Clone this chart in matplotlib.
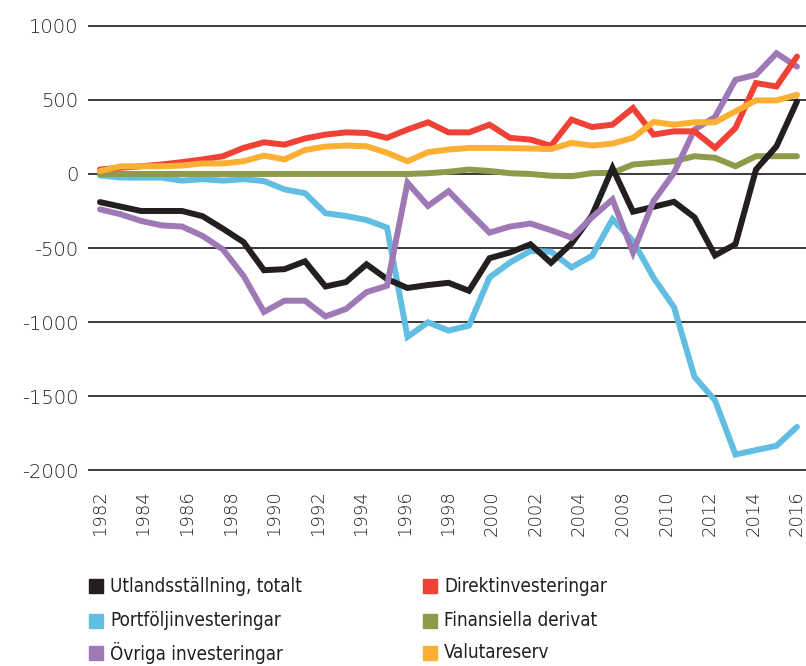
import matplotlib
matplotlib.use("Agg")
import matplotlib.pyplot as plt
import numpy as np
from matplotlib.patches import Rectangle

years = list(range(1982, 2017))
xtick_labels = ["1982", "1984", "1986", "1988", "1990", "1992", "1994", "1996", "1998",
                "2000", "2002", "2004", "2008", "2010", "2012", "2014", "2016"]
yticks = [1000, 500, 0, -500, -1000, -1500, -2000]
ytick_labels = ["1000", "500", "0", "-500", "-1000", "-1500", "-2000"]

names = ["Utlandsställning, totalt", "Direktinvesteringar", "Portföljinvesteringar",
         "Finansiella derivat", "Övriga investeringar", "Valutareserv"]
colors = ["#231f20", "#ef4136", "#62bde2", "#8f9b4b", "#9f79b6", "#fbb034"]

utland = [-190, -220, -250, -250, -250, -285, -370, -460, -650, -643, -590, -760,
          -730, -610, -710, -770, -750, -735, -789, -569, -530, -475, -600, -470,
          -280, 40, -255, -222, -188, -293, -550, -474, 30, 187, 490]
direkt = [30, 42, 52, 64, 80, 98, 120, 176, 214, 198, 240, 266,
          281, 277, 244, 300, 349, 281, 281, 333, 244, 232, 190, 367,
          317, 333, 445, 266, 288, 288, 176, 311, 614, 591, 793]
portfolj = [-10, -24, -25, -25, -45, -35, -45, -35, -48, -104, -130, -265,
            -284, -311, -362, -1100, -1002, -1058, -1024, -699, -598, -520, -525, -631,
            -553, -306, -452, -700, -900, -1370, -1529, -1895, -1865, -1836, -1708]
derivat = [0, 0, 0, 0, 0, 0, 0, 0, 0, 0, 0, 0,
           0, 0, 0, 0, 5, 15, 30, 20, 5, 0, -12, -15,
           5, 8, 64, 75, 86, 120, 109, 52, 120, 120, 120]
ovriga = [-239, -272, -317, -347, -355, -418, -510, -688, -932, -856, -856, -962,
          -912, -798, -755, -59, -216, -116, -257, -396, -355, -335, -380, -430,
          -293, -172, -530, -183, 8, 300, 385, 636, 670, 815, 725]
valuta = [19, 52, 52, 52, 57, 71, 71, 86, 124, 98, 162, 185,
          192, 187, 143, 86, 147, 165, 176, 176, 174, 172, 168, 210,
          192, 205, 244, 351, 333, 349, 349, 423, 497, 497, 535]

series = [utland, direkt, portfolj, derivat, ovriga, valuta]
draw_order = [2, 3, 0, 4, 1, 5]

fig = plt.figure(figsize=(8.06, 6.66), dpi=100)
W, H = 806, 666
ax = fig.add_axes([88 / W, (H - 476) / H, 718 / W, 456 / H])

for k in draw_order:
    ax.plot(years, series[k], color=colors[k], lw=4.3, solid_joinstyle="miter",
            solid_capstyle="round", zorder=3 + draw_order.index(k))

ax.set_xlim(1982 - 12 / 20.5, 1982 + 706 / 20.5)
ax.set_ylim(-2040, 1040)
ax.set_yticks(yticks)
ax.set_yticklabels(ytick_labels)
ax.set_xticks(np.linspace(years[0], years[-1], len(xtick_labels)))
ax.set_xticklabels(xtick_labels, rotation=90)
ax.tick_params(axis="both", length=0, colors="#231f20")
ax.tick_params(axis="y", pad=7, labelsize=14)
ax.tick_params(axis="x", pad=10, labelsize=13)
for lab in ax.get_xticklabels() + ax.get_yticklabels():
    lab.set_fontweight("light")
ax.yaxis.grid(True, color="#3a3a3a", lw=1.4)
ax.xaxis.grid(False)
ax.set_axisbelow(True)
for s in ax.spines.values():
    s.set_visible(False)

# legend
col_x = [89, 423]
row_y = [586, 621, 653]
for k, name in enumerate(names):
    c, r = k % 2, k // 2
    x0, yc = col_x[c], row_y[r]
    fig.patches.append(Rectangle((x0 / W, (H - yc - 7) / H), 14 / W, 14 / H,
                                 transform=fig.transFigure, color=colors[k]))
    fig.text((x0 + 21) / W, (H - yc) / H, name, va="center", ha="left",
             fontsize=13.5, family="DejaVu Sans", fontstretch="condensed",
             color="#231f20")

fig.savefig("out.png", dpi=100)
